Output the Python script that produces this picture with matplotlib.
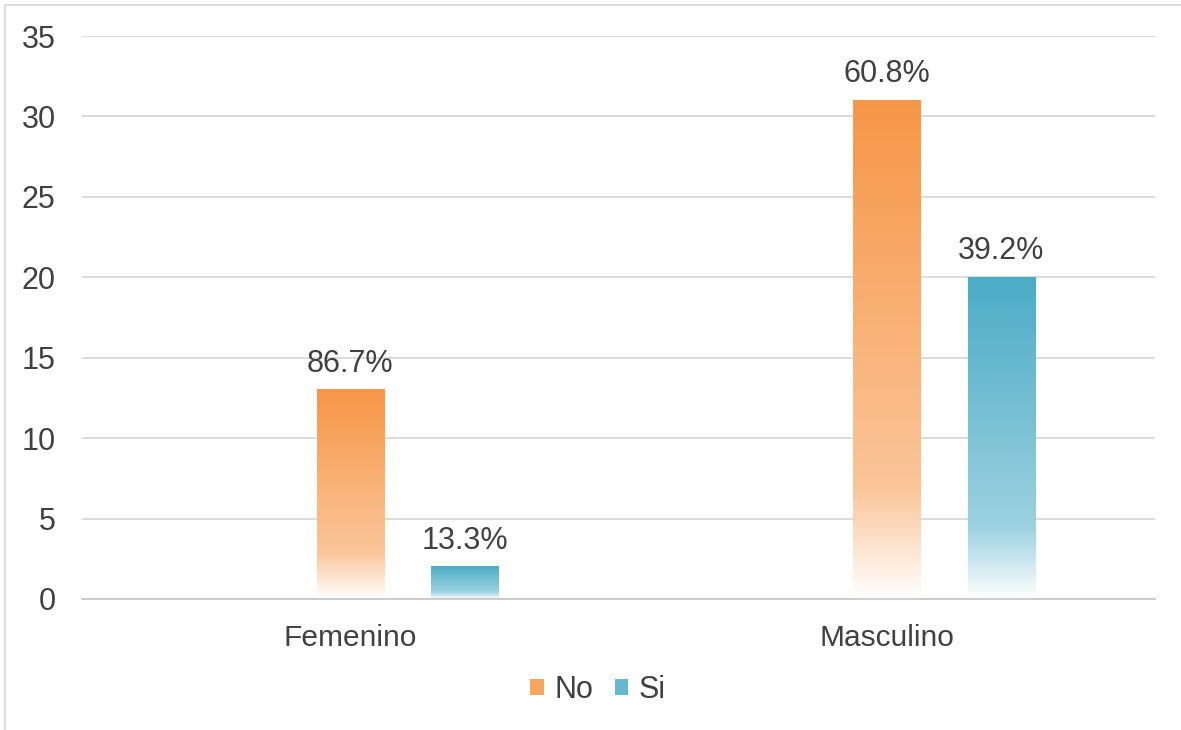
import matplotlib.pyplot as plt
import numpy as np
from matplotlib.patches import Patch, Rectangle
from matplotlib.colors import to_rgb

categories = ['Femenino', 'Masculino']
series = ['No', 'Si']
counts_no = [13, 31]
counts_si = [2, 20]
yticks = [0, 5, 10, 15, 20, 25, 30, 35]

colors = {'No': '#F79646', 'Si': '#4BACC6'}
offsets = {'No': 0.0, 'Si': 0.2134}
bar_w = 0.125
text_color = '#404040'

plt.rcParams['font.family'] = ['Liberation Sans', 'DejaVu Sans']


def gradient_column(color, n=256):
    # white at the base, quick rise in the lower quarter, full colour at the top
    c = np.array(to_rgb(color))
    t = np.linspace(0, 1, n)
    mix = np.interp(t, [0.0, 0.22, 1.0], [0.0, 0.55, 1.0])
    rgb = 1 - (1 - c)[None, :] * mix[:, None]
    return rgb[:, None, :]


fig = plt.figure(figsize=(11.81, 7.30), dpi=100)
ax = fig.add_axes([82 / 1181, (730 - 599) / 730, (1155 - 82) / 1181, (599 - 36) / 730])

ax.set_xlim(-0.5, 1.5)
ax.set_ylim(0, 35)
ax.set_yticks(yticks)
ax.grid(axis='y', color='#D9D9D9', linewidth=1.3, zorder=0)
ax.set_axisbelow(True)
for s in ['top', 'right', 'left']:
    ax.spines[s].set_visible(False)
ax.spines['bottom'].set_color('#C8C8C8')
ax.spines['bottom'].set_linewidth(1.3)
ax.tick_params(axis='y', length=0, pad=19, labelsize=22, labelcolor=text_color)
ax.tick_params(axis='x', length=0, pad=18, labelsize=21.5, labelcolor=text_color)
ax.set_xticks(range(len(categories)))
ax.set_xticklabels(categories)

data = {'No': counts_no, 'Si': counts_si}
totals = [a + b for a, b in zip(counts_no, counts_si)]

for name in series:
    img = gradient_column(colors[name])
    for i, v in enumerate(data[name]):
        x0 = i + offsets[name] - bar_w / 2
        ax.imshow(img, extent=[x0, x0 + bar_w, 0, v], origin='lower',
                  aspect='auto', zorder=2, interpolation='bilinear')
        pct = 100 * v / totals[i]
        ax.annotate(f'{pct:.1f}%', (i + offsets[name], v), xytext=(0, 8),
                    textcoords='offset points', ha='center', va='bottom',
                    fontsize=22, color=text_color)

ax.set_xlim(-0.5, 1.5)
ax.set_ylim(0, 35)

handles = [Patch(facecolor=colors[n], edgecolor='none', alpha=0.85) for n in series]
fig.legend(handles, series, loc='center', bbox_to_anchor=(598 / 1181, 1 - 690 / 730),
           ncol=2, frameon=False, fontsize=22, handlelength=0.45, handleheight=0.45,
           handletextpad=0.35, columnspacing=0.7, labelcolor=text_color)

# outer chart frame
fig.patches.append(Rectangle((5 / 1181, -0.05), 1.1, 1 - 5 / 730 + 0.05,
                             transform=fig.transFigure, fill=False,
                             edgecolor='#D9D9D9', linewidth=1.3))

fig.savefig('out.png', dpi=100, facecolor='white')
